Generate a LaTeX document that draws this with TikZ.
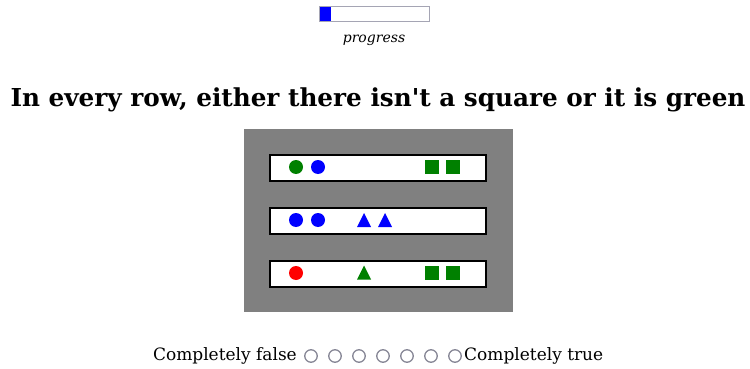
\documentclass[tikz,border=0pt]{standalone}
\usepackage{fontspec}
\setmainfont{DejaVu Serif}[Ligatures=TeXOff]
\usetikzlibrary{positioning}
\definecolor{sgreen}{RGB}{0,128,0}
\definecolor{sblue}{RGB}{0,0,255}
\definecolor{sred}{RGB}{255,0,0}
\definecolor{boxgray}{RGB}{128,128,128}
\definecolor{radiogray}{RGB}{135,135,150}
\definecolor{bargray}{RGB}{165,165,180}
\tikzset{
  rowbox/.style={draw=black, line width=1.5pt, fill=white, minimum width=216pt, minimum height=26pt, inner sep=0pt},
  dot/.style={circle, fill=#1, minimum size=14pt, inner sep=0pt},
  sq/.style={rectangle, fill=#1, minimum size=14pt, inner sep=0pt},
  radio/.style={circle, draw=radiogray, line width=1.3pt, fill=white, minimum size=12.5pt, inner sep=0pt},
  scale label/.style={font=\fontsize{17}{20}\selectfont, inner sep=0pt},
}
\newcommand{\tri}[3]{\fill[#3] (#1-7,#2+7) -- (#1+7,#2+7) -- (#1,#2-7) -- cycle;}
\begin{document}
\begin{tikzpicture}[x=1pt,y=-1pt]
\useasboundingbox (0,0) rectangle (750,369);
% progress bar
\node[draw=bargray, line width=1pt, fill=white, minimum width=110pt, minimum height=15pt, inner sep=0pt] (bar) at (374,14.5) {};
\fill[sblue] (320,7.5) rectangle (331,21.5);
\node[font=\fontsize{14}{16}\selectfont\itshape, inner sep=0pt] (prog) at (374,40.5) {progress};
% title
\node[font=\fontsize{24.7}{28}\selectfont\bfseries, inner sep=0pt] (title) at (378,99.5) {In every row, either there isn't a square or it is green};
% gray box
\node[fill=boxgray, minimum width=269pt, minimum height=183pt, inner sep=0pt] (panel) at (378.5,220.5) {};
% rows
\node[rowbox] (r1) at (378,168) {};
\node[rowbox] (r2) at (378,221) {};
\node[rowbox] (r3) at (378,274) {};
% row 1
\node[dot=sgreen] (a1) at (296,167) {};
\node[dot=sblue] (a2) at (318,167) {};
\node[sq=sgreen] (a3) at (431.5,167) {};
\node[sq=sgreen] (a4) at (453,167) {};
% row 2
\node[dot=sblue] (b1) at (296,220) {};
\node[dot=sblue] (b2) at (318,220) {};
\tri{364}{220}{sblue}
\tri{385}{220}{sblue}
% row 3
\node[dot=sred] (c1) at (296,273) {};
\tri{364}{272.5}{sgreen}
\node[sq=sgreen] (c3) at (431.5,272.5) {};
\node[sq=sgreen] (c4) at (453,272.5) {};
% scale
\node[scale label, anchor=east] (lf) at (297,356) {Completely false};
\foreach \i in {0,...,6} {
  \node[radio] (rb\i) at (311+24*\i,356) {};
}
\node[scale label, anchor=west] (lt) at (464,356) {Completely true};
\end{tikzpicture}
\end{document}
